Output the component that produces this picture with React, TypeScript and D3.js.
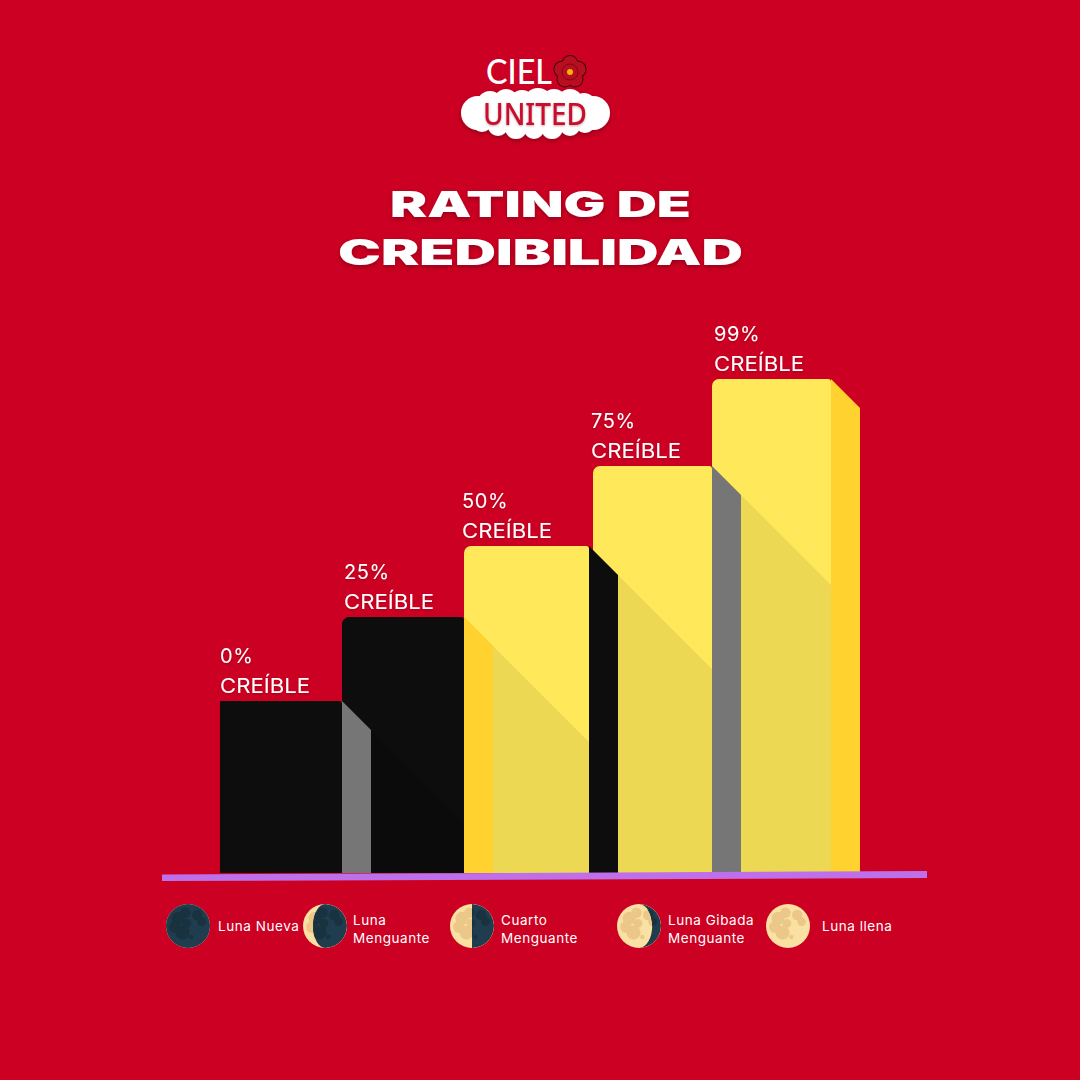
import * as d3 from 'd3';
import React from 'react';

const ratings = ['0%', '25%', '50%', '75%', '99%'];
const ratingWord = 'CREÍBLE';
// bar height as a share of the tallest bar (not proportional to the %)
const barLevels = [0.348, 0.518, 0.662, 0.824, 1];
const faceColors = ['#0D0D0D', '#0D0D0D', '#FFE95B', '#FFE95B', '#FFE95B'];
const sideColors = ['#767676', '#FFD22F', '#0D0D0D', '#767676', '#FFD22F'];

const moonNames = [['Luna Nueva'], ['Luna', 'Menguante'], ['Cuarto', 'Menguante'], ['Luna Gibada', 'Menguante'], ['Luna llena']];
const moonLit = [0, 0.23, 0.5, 0.8, 1];

// layout
const barEdges = [220, 342, 464, 593, 712, 831];
const barInset = [0, 0, 4, 0, 0];
const labelNudge = [0, 2, -2, -2, 2];
const moonX = [188, 325, 472, 639, 788];
const moonTextX = [218, 353, 501, 668, 822];
const moonY = 926;
const moonR = 22;
const depth = 29;
const base = 873;
const top = 379;

const craters: [number, number, number][] = [
  [-0.45, -0.35, 0.3], [-0.12, -0.6, 0.24], [-0.6, 0.05, 0.26], [-0.25, 0.3, 0.32], [0.42, -0.5, 0.24],
  [0.62, -0.2, 0.2], [-0.05, -0.12, 0.2], [0.15, 0.5, 0.1],
];
const cloud: [number, number, number][] = [
  [478, 113, 17], [490, 104, 13], [506, 101, 12], [522, 103, 13], [538, 102, 14], [554, 102, 13], [570, 102, 13],
  [584, 105, 12], [593, 113, 17], [585, 123, 10], [570, 126, 10], [552, 128, 11], [534, 129, 10], [516, 128, 11],
  [498, 126, 10], [482, 122, 10], [535, 114, 20], [505, 114, 18], [565, 114, 18],
];

const xEdge = d3.scaleLinear().domain(d3.range(barEdges.length)).range(barEdges);
const y = d3.scaleLinear().domain([0, 1]).range([base, top]);
const polygon = d3.line();

const barFace = (i: number) => {
  const l = xEdge(i);
  const r = xEdge(i + 1) - barInset[i];
  const t = y(barLevels[i]);
  const rad = i === 0 ? 1 : 7;
  const p = d3.path();
  p.moveTo(l, base);
  p.lineTo(l, t + rad);
  p.arcTo(l, t, l + rad, t, rad);
  p.lineTo(r - 3, t);
  p.arcTo(r, t, r, t + 3, 3);
  p.lineTo(r, base);
  p.closePath();
  return p.toString();
};

const barSide = (i: number) => {
  const r = xEdge(i + 1) - barInset[i];
  const t = y(barLevels[i]);
  return polygon([[r, t], [r + depth, t + depth], [r + depth, base], [r, base]]) as string;
};

const barShadow = (i: number) => {
  const r = xEdge(i + 1) - barInset[i];
  const t = y(barLevels[i]);
  const w = 200;
  return polygon([[r, t], [r + w, t + w], [r + w, base], [r, base]]) as string;
};

// dark part of the moon: right limb, back along the terminator
const darkPart = (lit: number) => {
  const off = (2 * lit - 1) * moonR;
  const sweep = off > 0 ? 0 : 1;
  return `M0,${-moonR}A${moonR},${moonR} 0 0 1 0,${moonR}A${Math.abs(off)},${moonR} 0 0 ${sweep} 0,${-moonR}Z`;
};

const Moon = ({ i }: { i: number }) => {
  const lit = moonLit[i];
  return (
    <g transform={`translate(${moonX[i]},${moonY})`}>
      <clipPath id={`disc${i}`}><circle r={moonR} /></clipPath>
      <clipPath id={`dark${i}`}><path d={lit === 0 ? `M${-moonR},${-moonR}h${2 * moonR}v${2 * moonR}h${-2 * moonR}Z` : darkPart(lit)} /></clipPath>
      <circle r={moonR} fill="#FBE0A3" />
      <g clipPath={`url(#disc${i})`}>
        {craters.map((c, k) => <circle key={k} cx={c[0] * moonR} cy={c[1] * moonR} r={c[2] * moonR} fill="#EBC88A" />)}
      </g>
      {lit < 1 && (
        <g clipPath={`url(#dark${i})`}>
          <circle r={moonR} fill="#1F3D4E" />
          {craters.map((c, k) => <circle key={k} cx={c[0] * moonR} cy={c[1] * moonR} r={c[2] * moonR} fill="#19323F" />)}
        </g>
      )}
    </g>
  );
};

const petals = d3.range(5).map((k) => (k * 2 * Math.PI) / 5);

const Logo = () => (
  <g>
    <g filter="url(#soft)">
      {cloud.map((c, k) => <circle key={k} cx={c[0]} cy={c[1]} r={c[2]} fill="#fff" />)}
    </g>
    <text x={486} y={84} fill="#fff" fontFamily="Lato" fontSize={35} fontWeight={500} textLength={66} lengthAdjust="spacingAndGlyphs">CIEL</text>
    <g transform="translate(570,72)">
      {petals.map((a, k) => (
        <circle key={k} cx={8.5 * Math.sin(a)} cy={-8.5 * Math.cos(a)} r={8.5} fill="#3A0A10" />
      ))}
      {petals.map((a, k) => (
        <circle key={k} cx={8.5 * Math.sin(a)} cy={-8.5 * Math.cos(a)} r={7.5} fill="#B80E20" />
      ))}
      <circle r={8} fill="#B80E20" stroke="#7A0A18" strokeWidth={1} />
      <circle r={3} fill="#F2B705" />
    </g>
    <text x={483} y={125} fill="#C8102E" fontFamily="Noto Sans" fontSize={31} fontWeight={500} textLength={104} lengthAdjust="spacingAndGlyphs" filter="url(#faint)">UNITED</text>
  </g>
);

export default function App() {
  const titleFont = { fontFamily: 'Inter', fontWeight: 900, fontSize: 35, fill: '#fff', lengthAdjust: 'spacingAndGlyphs' as const, filter: 'url(#soft)' };
  return (
    <svg width={1080} height={1080} style={{ position: 'absolute', left: 0, top: 0 }}>
      <defs>
        <filter id="soft" x="-20%" y="-40%" width="140%" height="180%">
          <feDropShadow dx={0} dy={2} stdDeviation={2.5} floodColor="#5A0010" floodOpacity={0.5} />
        </filter>
        <filter id="faint" x="-20%" y="-40%" width="140%" height="180%">
          <feDropShadow dx={0} dy={1} stdDeviation={1.2} floodColor="#5A0010" floodOpacity={0.35} />
        </filter>
        {ratings.map((_, i) => (
          <clipPath id={`face${i}`} key={i}><path d={barFace(i)} /></clipPath>
        ))}
      </defs>
      <rect width={1080} height={1080} fill="#CC0022" />

      <Logo />
      <text x={390} y={216.5} textLength={301} {...titleFont}>RATING DE</text>
      <text x={338} y={264.5} textLength={405} {...titleFont}>CREDIBILIDAD</text>

      {ratings.map((_, i) => (
        <g key={i}>
          <path d={barFace(i)} fill={faceColors[i]} />
          {i > 0 && <path d={barShadow(i - 1)} clipPath={`url(#face${i})`} fill="#000" opacity={i === 1 ? 0.1 : 0.07} />}
        </g>
      ))}
      {ratings.map((_, i) => <path key={i} d={barSide(i)} fill={sideColors[i]} />)}

      {ratings.map((r, i) => {
        const t = y(barLevels[i]);
        const tx = xEdge(i) + labelNudge[i];
        return (
          <g key={i} fontFamily="Inter" fontSize={20} fill="#fff" filter="url(#faint)">
            <text x={tx} y={t - 38} letterSpacing={0.6}>{r}</text>
            <text x={tx} y={t - 8} textLength={90} lengthAdjust="spacingAndGlyphs">{ratingWord}</text>
          </g>
        );
      })}

      <path d={polygon([[162, 874.5], [927, 871], [927, 878], [162, 881]]) as string} fill="#BE6FEA" />

      {moonNames.map((lines, i) => (
        <g key={i}>
          <Moon i={i} />
          <text fontFamily="Inter" fontSize={13.5} fill="#fff" letterSpacing={0.55}>
            {lines.map((l, k) => (
              <tspan key={k} x={moonTextX[i]} y={lines.length === 1 ? moonY + 5 : moonY - 1 + k * 18}>{l}</tspan>
            ))}
          </text>
        </g>
      ))}
    </svg>
  );
}
